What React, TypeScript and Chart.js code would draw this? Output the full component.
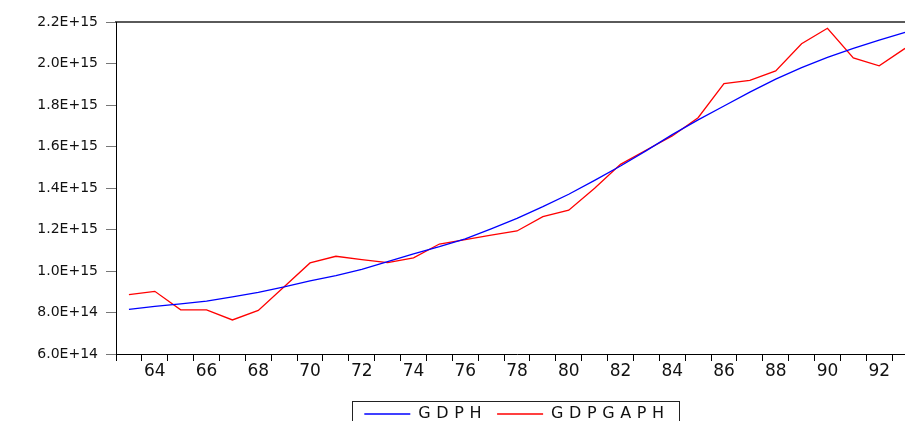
import React, { useEffect, useRef } from "react";
import { Chart, registerables } from "chart.js";

Chart.register(...registerables);

const years = [63,64,65,66,67,68,69,70,71,72,73,74,75,76,77,78,79,80,81,82,83,84,85,86,87,88,89,90,91,92,93];

const gdph = [
  8.15e14, 8.30e14, 8.42e14, 8.55e14, 8.75e14, 8.97e14, 9.23e14, 9.52e14, 9.78e14, 10.08e14,
  10.45e14, 10.82e14, 11.17e14, 11.55e14, 12.03e14, 12.54e14, 13.10e14, 13.70e14, 14.37e14, 15.06e14,
  15.80e14, 16.57e14, 17.28e14, 17.95e14, 18.62e14, 19.25e14, 19.80e14, 20.30e14, 20.73e14, 21.13e14,
  21.50e14,
];

const gdpgaph = [
  8.86e14, 9.02e14, 8.13e14, 8.13e14, 7.64e14, 8.10e14, 9.24e14, 10.39e14, 10.71e14, 10.55e14,
  10.40e14, 10.63e14, 11.30e14, 11.51e14, 11.73e14, 11.93e14, 12.62e14, 12.93e14, 13.99e14, 15.14e14,
  15.83e14, 16.51e14, 17.39e14, 19.03e14, 19.19e14, 19.64e14, 20.95e14, 21.70e14, 20.27e14, 19.89e14,
  20.73e14,
];

const seriesNames = ["GDPH", "GDPGAPH"];
const yMin = 6e14;
const yMax = 2.2e15;
const yStep = 2e14;

const AXIS_SP = "0px";
const LEGEND_SP = "5.6px";
const FAMILY = "'DejaVu Sans', 'Liberation Sans', sans-serif";

const setSp = (ctx: any, v: string) => {
  ctx.letterSpacing = v;
};

const spacingPlugin = {
  id: "letterSpacing",
  beforeUpdate(chart: any) {
    setSp(chart.ctx, LEGEND_SP);
  },
  beforeLayout(chart: any) {
    setSp(chart.ctx, LEGEND_SP);
  },
  beforeDraw(chart: any) {
    setSp(chart.ctx, LEGEND_SP);
  },
  afterDatasetsDraw(chart: any) {
    setSp(chart.ctx, AXIS_SP);
  },
};

const legendBorderPlugin = {
  id: "legendBorder",
  afterDraw(chart: any) {
    const lg = chart.legend;
    if (!lg || !lg.legendHitBoxes || !lg.legendHitBoxes.length) return;
    const hb = lg.legendHitBoxes;
    const first = hb[0];
    const last = hb[hb.length - 1];
    const left = Math.round(first.left - 12) + 0.5;
    const right = Math.round(last.left + last.width + 9) + 0.5;
    const top = Math.round(first.top - 5) + 0.5;
    const bottom = top + 26;
    const ctx = chart.ctx;
    ctx.save();
    ctx.strokeStyle = "#222";
    ctx.lineWidth = 1;
    ctx.strokeRect(left, top, right - left, bottom - top);
    ctx.restore();
  },
};

const axisUpdateHooks = {
  beforeUpdate: (scale: any) => setSp(scale.ctx, AXIS_SP),
  afterUpdate: (scale: any) => setSp(scale.ctx, LEGEND_SP),
};

export default function App() {
  const ref = useRef<HTMLCanvasElement | null>(null);

  useEffect(() => {
    if (!ref.current) return;
    const chart = new Chart(ref.current, {
      type: "line",
      data: {
        datasets: [
          {
            label: seriesNames[0],
            data: years.map((x, i) => ({ x, y: gdph[i] })),
            borderColor: "#0000ff",
            backgroundColor: "#0000ff",
            borderWidth: 1.3,
            pointRadius: 0,
            tension: 0,
          },
          {
            label: seriesNames[1],
            data: years.map((x, i) => ({ x, y: gdpgaph[i] })),
            borderColor: "#ff0000",
            backgroundColor: "#ff0000",
            borderWidth: 1.3,
            pointRadius: 0,
            tension: 0,
          },
        ],
      },
      options: {
        responsive: false,
        animation: false,
        layout: { padding: { top: 22, left: 0, right: 0, bottom: 0 } },
        plugins: {
          tooltip: { enabled: false },
          legend: {
            position: "bottom",
            fullSize: false,
            labels: {
              usePointStyle: true,
              pointStyle: "line",
              pointStyleWidth: 46,
              padding: 10,
              color: "#111",
              font: { family: FAMILY, size: 16 },
            },
          },
        },
        scales: {
          x: {
            type: "linear",
            position: "bottom",
            min: 62.5,
            max: 93.5,
            ...axisUpdateHooks,
            afterBuildTicks: (scale: any) => {
              scale.ticks = years.map((v) => ({ value: v }));
            },
            afterFit: (scale: any) => {
              scale.height = 42;
            },
            ticks: {
              z: 1,
              autoSkip: false,
              maxRotation: 0,
              padding: 0,
              color: "#111",
              font: { family: FAMILY, size: 17 },
              callback: (v: any) => (Number(v) % 2 === 0 ? String(v) : ""),
            },
            grid: {
              offset: true,
              drawOnChartArea: false,
              drawTicks: true,
              tickLength: 7,
              color: "#000",
            },
            border: { color: "#000", width: 1 },
          },
          xTop: {
            type: "linear",
            position: "top",
            min: 0,
            max: 1,
            ticks: { display: false },
            grid: { display: false, drawTicks: false },
            border: { color: "#5a5a5a", width: 2 },
          },
          y: {
            type: "linear",
            min: yMin,
            max: yMax,
            ...axisUpdateHooks,
            afterFit: (scale: any) => {
              scale.width = 116;
            },
            ticks: {
              z: 1,
              stepSize: yStep,
              padding: 8,
              color: "#111",
              font: { family: FAMILY, size: 14 },
              callback: (v: any) => Number(v).toExponential(1).toUpperCase(),
            },
            grid: {
              drawOnChartArea: false,
              drawTicks: true,
              tickLength: 10,
              color: "#777",
            },
            border: { color: "#000", width: 1 },
          },
        },
      },
      plugins: [spacingPlugin, legendBorderPlugin],
    } as any);
    return () => chart.destroy();
  }, []);

  return (
    <div
      style={{
        position: "fixed",
        left: 0,
        top: 0,
        width: 905,
        height: 421,
        overflow: "hidden",
        background: "#fff",
      }}
    >
      <canvas ref={ref} width={918} height={432} style={{ display: "block" }} />
    </div>
  );
}
